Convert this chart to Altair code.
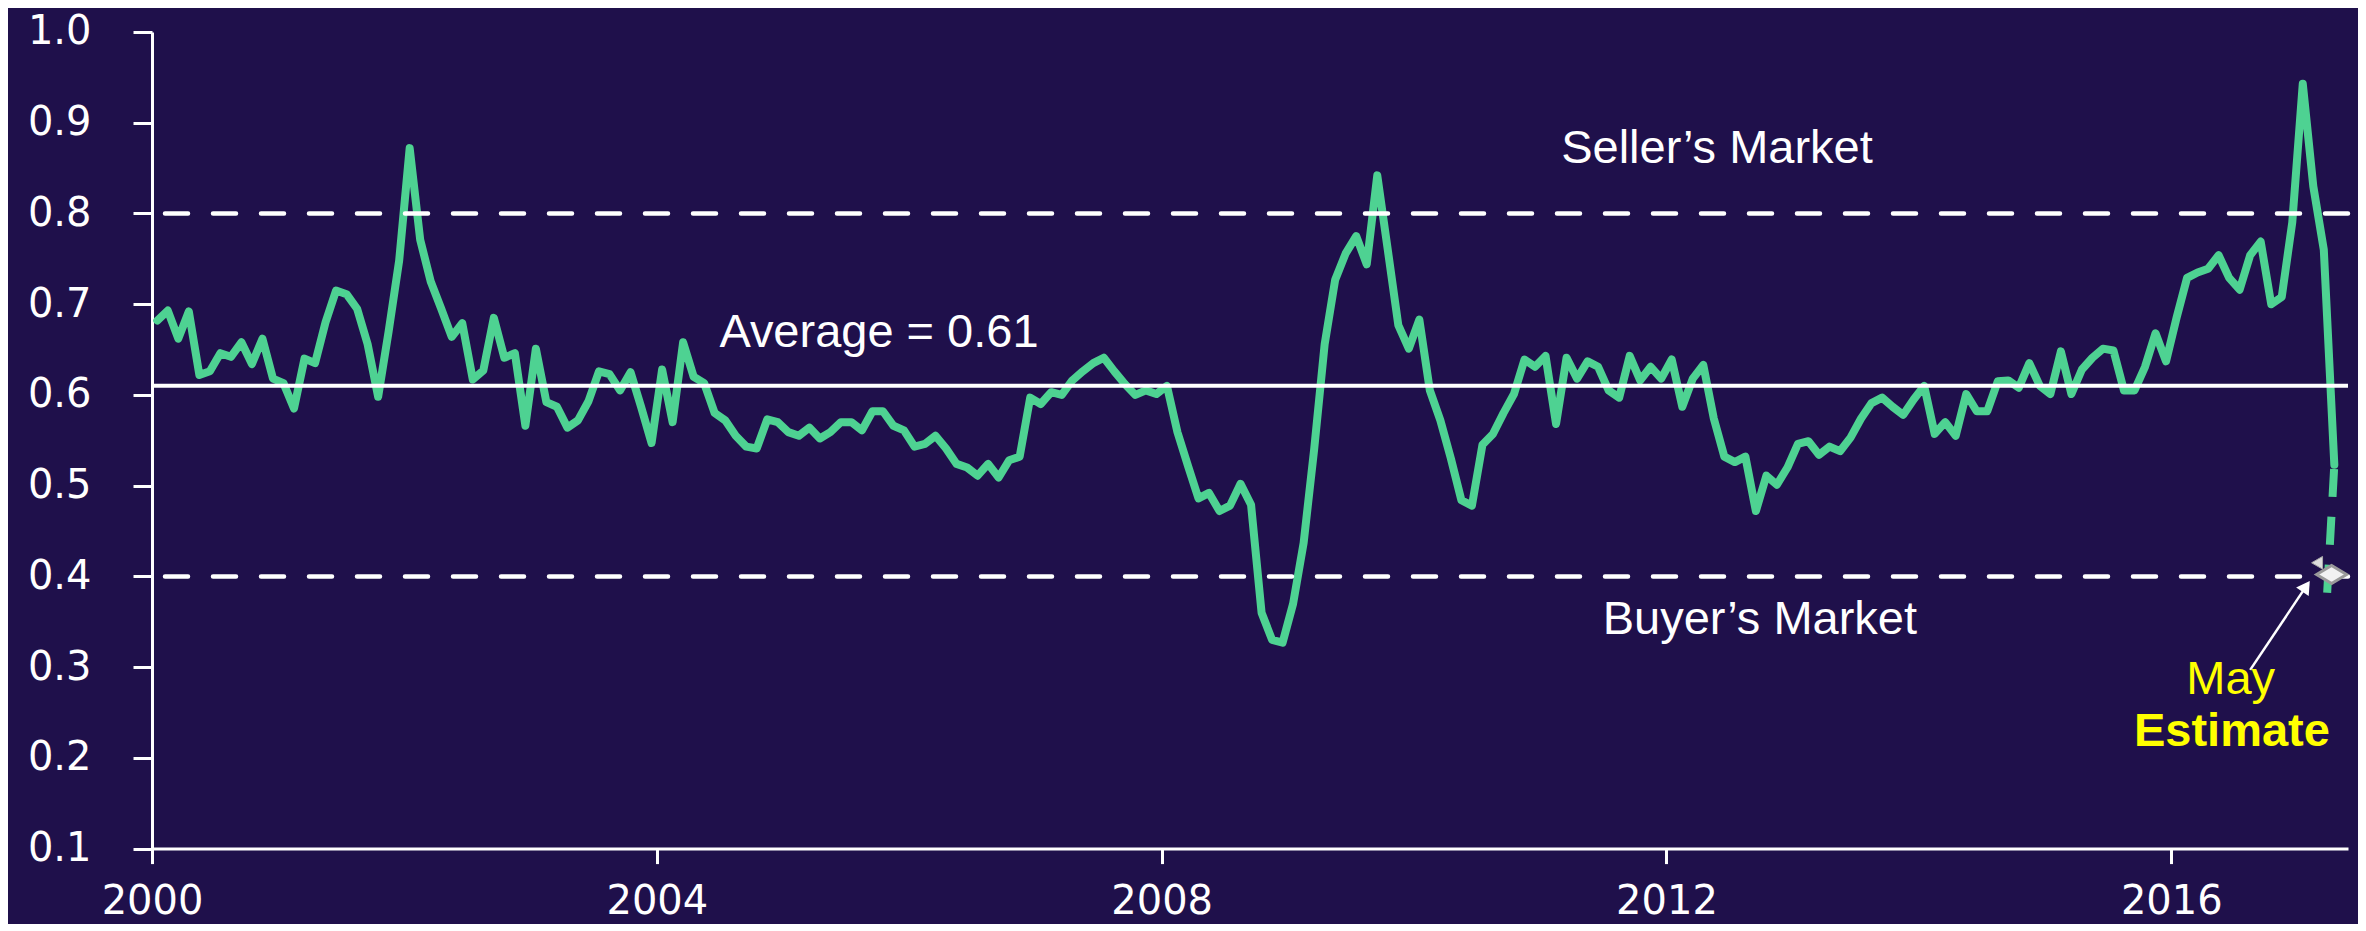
import altair as alt
import pandas as pd

# ---- monthly values (Jan..Dec per year) ----
years = list(range(2000, 2018))
v2000 = [0.682, 0.693, 0.662, 0.692, 0.622, 0.626, 0.646, 0.642, 0.658, 0.634, 0.662, 0.618]
v2001 = [0.613, 0.585, 0.640, 0.635, 0.680, 0.715, 0.711, 0.695, 0.656, 0.598, 0.670, 0.748]
v2002 = [0.872, 0.771, 0.725, 0.695, 0.664, 0.679, 0.617, 0.627, 0.685, 0.641, 0.646, 0.566]
v2003 = [0.651, 0.592, 0.587, 0.564, 0.572, 0.593, 0.626, 0.623, 0.605, 0.625, 0.587, 0.547]
v2004 = [0.628, 0.570, 0.658, 0.620, 0.613, 0.580, 0.572, 0.555, 0.543, 0.541, 0.573, 0.570]
v2005 = [0.559, 0.555, 0.564, 0.552, 0.559, 0.570, 0.570, 0.561, 0.582, 0.582, 0.566, 0.561]
v2006 = [0.543, 0.546, 0.555, 0.541, 0.524, 0.520, 0.511, 0.524, 0.509, 0.528, 0.532, 0.597]
v2007 = [0.590, 0.603, 0.600, 0.616, 0.626, 0.635, 0.641, 0.626, 0.612, 0.600, 0.605, 0.601]
v2008 = [0.610, 0.559, 0.522, 0.486, 0.492, 0.472, 0.478, 0.502, 0.479, 0.360, 0.330, 0.327]
v2009 = [0.370, 0.437, 0.540, 0.656, 0.727, 0.756, 0.775, 0.744, 0.842, 0.760, 0.677, 0.651]
v2010 = [0.683, 0.605, 0.572, 0.530, 0.484, 0.478, 0.545, 0.557, 0.580, 0.601, 0.639, 0.631]
v2011 = [0.643, 0.568, 0.641, 0.618, 0.637, 0.631, 0.605, 0.597, 0.643, 0.616, 0.631, 0.618]
v2012 = [0.639, 0.587, 0.618, 0.633, 0.574, 0.532, 0.526, 0.532, 0.472, 0.511, 0.501, 0.520]
v2013 = [0.546, 0.549, 0.534, 0.543, 0.538, 0.553, 0.574, 0.591, 0.597, 0.587, 0.578, 0.595]
v2014 = [0.610, 0.557, 0.570, 0.555, 0.601, 0.582, 0.582, 0.615, 0.616, 0.608, 0.635, 0.610]
v2015 = [0.601, 0.648, 0.601, 0.628, 0.641, 0.651, 0.649, 0.605, 0.605, 0.631, 0.668, 0.637]
v2016 = [0.685, 0.729, 0.735, 0.739, 0.754, 0.729, 0.716, 0.754, 0.769, 0.700, 0.708, 0.790]
v2017 = [0.943, 0.830, 0.760, 0.523]
series = [v2000, v2001, v2002, v2003, v2004, v2005, v2006, v2007, v2008,
          v2009, v2010, v2011, v2012, v2013, v2014, v2015, v2016, v2017]

# May estimate (dashed segment from April value)
est_t = [2017 + 3.5 / 12, 2017.235]
est_v = [0.523, 0.382]
marker_t, marker_v = [2017.27], [0.402]
tri_t, tri_v = [2017.155], [0.415]

# reference lines
band_levels = [0.8, 0.4]
average_level = [0.61]

# annotations
white_labels = ["Seller\u2019s Market", "Buyer\u2019s Market", "Average = 0.61"]
white_t = [2012.40, 2012.74, 2005.76]
white_v = [0.856, 0.336, 0.653]
arrow_t = [2016.625, 2017.068]
arrow_v = [0.297, 0.389]

x_ticks = [2000, 2004, 2008, 2012, 2016]
y_ticks = [0.1, 0.2, 0.3, 0.4, 0.5, 0.6, 0.7, 0.8, 0.9, 1.0]

BG = "#1f104b"
GREEN = "#4ed292"
WHITE = "#ffffff"
YELLOW = "#ffff00"

rows = []
for yr, vals in zip(years, series):
    for i, v in enumerate(vals):
        rows.append({"t": yr + (i + 0.5) / 12, "v": v})
df = pd.DataFrame(rows)

xscale = alt.Scale(domain=[2000, 2017.4], nice=False, zero=False)
yscale = alt.Scale(domain=[0.1, 1.0], nice=False, zero=False)

x_axis = alt.Axis(values=x_ticks, format="d", title=None, grid=False,
                  labelFont="DejaVu Sans", labelFontSize=40, labelColor=WHITE,
                  domainColor=WHITE, domainWidth=3, tickColor=WHITE, tickWidth=3,
                  tickSize=15, labelPadding=18, labelFlush=False)
y_axis = alt.Axis(values=y_ticks, format=".1f", title=None, grid=False,
                  labelFont="DejaVu Sans", labelFontSize=40, labelColor=WHITE,
                  domainColor=WHITE, domainWidth=3, tickColor=WHITE, tickWidth=3,
                  tickSize=19, labelPadding=42)


def X():
    return alt.X("t:Q", scale=xscale, axis=x_axis)


def Y():
    return alt.Y("v:Q", scale=yscale, axis=y_axis)


line = alt.Chart(df).mark_line(color=GREEN, strokeWidth=8, strokeJoin="round",
                               strokeCap="round").encode(x=X(), y=Y())

est = alt.Chart(pd.DataFrame({"t": est_t, "v": est_v})).mark_line(
    color=GREEN, strokeWidth=8, strokeDash=[28, 20]).encode(x=X(), y=Y())

dashed = alt.Chart(pd.DataFrame({"v": band_levels})).mark_rule(
    color=WHITE, strokeWidth=4.5, strokeDash=[23, 25], strokeCap="round").encode(y=Y())

avg = alt.Chart(pd.DataFrame({"v": average_level})).mark_rule(
    color=WHITE, strokeWidth=4).encode(y=Y())

diamond = alt.Chart(pd.DataFrame({"t": marker_t, "v": marker_v})).mark_point(
    shape="M -1 0 L 0 -0.6 L 1 0 L 0 0.6 Z", filled=True, fill="#f2f2f2",
    stroke="#9a9a9a", strokeWidth=3, size=900, opacity=1).encode(x=X(), y=Y())

tri = alt.Chart(pd.DataFrame({"t": tri_t, "v": tri_v})).mark_point(
    shape="triangle-left", filled=True, fill="#dddddd", stroke="#aaaaaa",
    strokeWidth=1, size=160, opacity=1).encode(x=X(), y=Y())

arrow_shaft = alt.Chart(pd.DataFrame({"t": arrow_t, "v": arrow_v})).mark_line(
    color=WHITE, strokeWidth=2.5).encode(x=X(), y=Y())
arrow_head = alt.Chart(pd.DataFrame({"t": arrow_t[1:], "v": arrow_v[1:]})).mark_point(
    shape="triangle-up", filled=True, color=WHITE, size=230, angle=34, opacity=1
).encode(x=X(), y=Y())

texts = alt.Chart(pd.DataFrame({"t": white_t, "v": white_v, "label": white_labels})).mark_text(
    font="Liberation Sans", fontSize=47, color=WHITE, align="center", baseline="alphabetic"
).encode(x=X(), y=Y(), text="label:N")

may = alt.Chart(pd.DataFrame({"t": [2016.47], "v": [0.270], "label": ["May"]})).mark_text(
    font="Liberation Sans", fontSize=47, color=YELLOW, align="center", baseline="alphabetic"
).encode(x=X(), y=Y(), text="label:N")

estimate = alt.Chart(pd.DataFrame({"t": [2016.48], "v": [0.213], "label": ["Estimate"]})).mark_text(
    font="Liberation Sans", fontSize=47, fontWeight="bold", color=YELLOW, align="center",
    baseline="alphabetic"
).encode(x=X(), y=Y(), text="label:N")

chart = alt.layer(
    line, est, dashed, avg, tri, diamond, arrow_shaft, arrow_head, texts, may, estimate
).properties(
    width=2196, height=816.6,
    padding={"left": 144, "top": 24, "right": 10, "bottom": 75},
    autosize=alt.AutoSizeParams(type="none"),
).configure(background=BG).configure_view(stroke=None)

chart.save("out.html", embed_options={"renderer": "svg", "actions": False})
